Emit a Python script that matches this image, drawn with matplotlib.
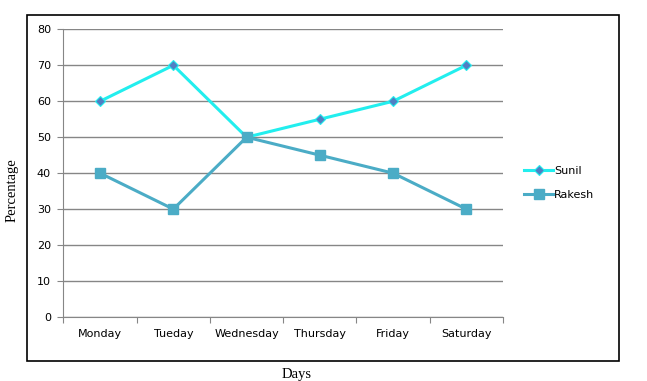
import matplotlib.pyplot as plt
from matplotlib.patches import Rectangle

days = ["Monday", "Tueday", "Wednesday", "Thursday", "Friday", "Saturday"]
sunil = [60, 70, 50, 55, 60, 70]
rakesh = [40, 30, 50, 45, 40, 30]

fig = plt.figure(figsize=(6.47, 3.81), dpi=100)
ax = fig.add_axes([0.0981, 0.168, 0.6793, 0.755])

# outer border of the chart
fig.patches.append(Rectangle((0.041, 0.0525), 0.915, 0.9094, transform=fig.transFigure,
                             fill=False, edgecolor="black", linewidth=1.2))

x = list(range(len(days)))
ax.plot(x, sunil, color="#22EEEE", linewidth=2.2, marker="D", markersize=5,
        markerfacecolor="#4F7FC4", markeredgecolor="#22EEEE", markeredgewidth=0.8, label="Sunil", zorder=3)
ax.plot(x, rakesh, color="#4BACC6", linewidth=2.2, marker="s", markersize=7,
        markerfacecolor="#4BACC6", markeredgecolor="#4BACC6", label="Rakesh", zorder=3)

ax.set_xlim(-0.5, len(days) - 0.5)
ax.set_ylim(0, 80)
ax.set_yticks(range(0, 81, 10))
ax.grid(axis="y", color="#868686", linewidth=1)
ax.set_axisbelow(True)

# category boundaries as major ticks, names as minor ticks
ax.set_xticks([i - 0.5 for i in range(len(days) + 1)])
ax.set_xticklabels([])
ax.set_xticks(x, minor=True)
ax.set_xticklabels(days, minor=True, fontsize=8)
ax.tick_params(axis="x", which="minor", length=0, pad=9)
ax.tick_params(axis="x", which="major", length=4, color="#868686")
ax.tick_params(axis="y", length=4, color="#868686", labelsize=8, pad=5)

for s in ["top", "right"]:
    ax.spines[s].set_visible(False)
for s in ["left", "bottom"]:
    ax.spines[s].set_color("#868686")

fig.text(0.4591, 0.008, "Days", family="Liberation Serif", fontsize=10.5, ha="center")
fig.text(0.018, 0.5, "Percentage", family="Liberation Serif", fontsize=10.5,
         rotation=90, va="center", ha="center")

fig.legend(loc="center left", bbox_to_anchor=(0.795, 0.52), frameon=False, fontsize=8,
           handlelength=2.6, labelspacing=1.3, handletextpad=0.1)

plt.savefig("out.png", dpi=100)
